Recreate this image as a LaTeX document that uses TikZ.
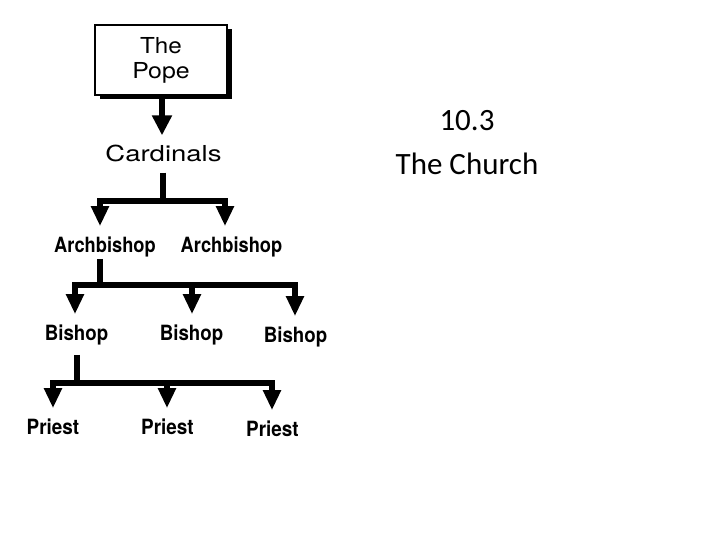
\documentclass[tikz,border=0pt]{standalone}
\usepackage{fontspec}
\newfontfamily\heros{TeX Gyre Heros}
\newfontfamily\calib{Carlito}
\usetikzlibrary{arrows.meta,shadows}
\begin{document}
\begin{tikzpicture}[x=1pt,y=-1pt,
  bar/.style={line width=5.5pt},
  arr/.style={line width=5.5pt,-{Triangle[width=17pt,length=20pt]}},
  bigarr/.style={line width=6.5pt,-{Triangle[width=19pt,length=20pt]}},
  rank/.style={anchor=base,inner xsep=0pt,inner ysep=10pt},
  rankfont/.style={font=\heros\bfseries\fontsize{21}{24}\selectfont},
  popebox/.style={draw,line width=1.3pt,fill=white,minimum width=132pt,
    minimum height=70pt,inner sep=0pt,align=center,
    drop shadow={shadow xshift=5pt,shadow yshift=-4pt,fill=black,opacity=1},
    font=\heros\fontsize{22}{25}\selectfont},
  titlefont/.style={font=\calib\fontsize{31}{44}\selectfont,anchor=base,inner sep=0pt}
]
\useasboundingbox (0,0) rectangle (720,540);

% nodes
\node[popebox] (pope) at (161,60) {\scalebox{1.1}[1]{The}\\\scalebox{1.13}[1]{Pope}};
\node[rank,font=\heros\fontsize{22}{25}\selectfont] (cardinals) at (163.5,162) {\scalebox{1.25}[1]{Cardinals}};

\node[rank,rankfont] (arch1) at (105,252) {\scalebox{0.87}[1]{Archbishop}};
\node[rank,rankfont] (arch2) at (231.5,252) {\scalebox{0.87}[1]{Archbishop}};

\node[rank,rankfont] (bish1) at (76.5,340) {\scalebox{0.89}[1]{Bishop}};
\node[rank,rankfont] (bish2) at (191.5,340) {\scalebox{0.89}[1]{Bishop}};
\node[rank,rankfont] (bish3) at (295.5,342) {\scalebox{0.89}[1]{Bishop}};

\node[rank,rankfont] (priest1) at (53,434) {\scalebox{0.9}[1]{Priest}};
\node[rank,rankfont] (priest2) at (167.5,434) {\scalebox{0.9}[1]{Priest}};
\node[rank,rankfont] (priest3) at (272.5,436) {\scalebox{0.9}[1]{Priest}};

\node[titlefont] (title) at (467,131) {10.3};
\node[titlefont] (church) at (467,175) {The Church};

% junctions
\coordinate (j1) at (163,201);
\coordinate (j2) at (100,285);
\coordinate (j3) at (77,383);

% connectors
\draw[bigarr] ([xshift=1pt]pope.south) -- ([xshift=-1.5pt]cardinals.north);

\draw[bar] (cardinals.south -| j1) -- (j1);
\draw[arr] (j1) -| ([xshift=-5pt]arch1.north);
\draw[arr] (j1) -| ([xshift=-6.5pt]arch2.north);

\draw[bar,shorten <=-8pt] (arch1.south -| j2) -- (j2);
\draw[arr] (j2) -| ([xshift=-1.5pt]bish1.north);
\draw[arr] (j2) -| ([xshift=0.5pt]bish2.north);
\draw[arr] (j2) -| ([xshift=-0.5pt]bish3.north);

\draw[bar] (bish1.south -| j3) -- (j3);
\draw[arr] (j3) -| (priest1.north);
\draw[arr] (j3) -| ([xshift=-0.5pt]priest2.north);
\draw[arr] (j3) -| ([xshift=-0.5pt]priest3.north);
\end{tikzpicture}
\end{document}
